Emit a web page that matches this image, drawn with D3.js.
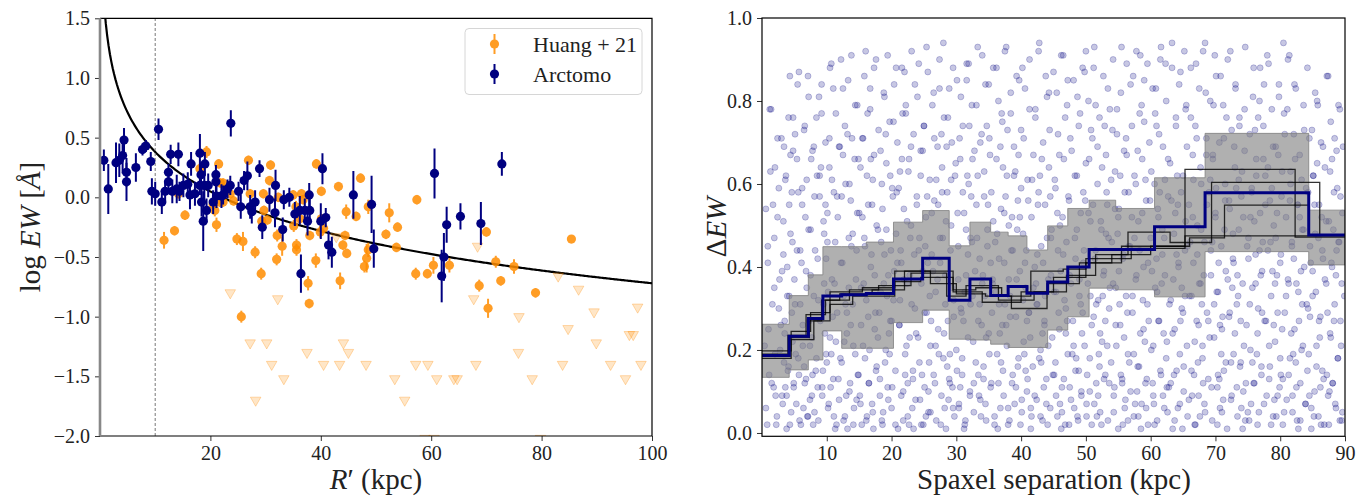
<!DOCTYPE html>
<html>
<head>
<meta charset="utf-8">
<script src="https://cdn.jsdelivr.net/npm/d3@7"></script>
<style>
  body { margin: 0; background: #fff; }
  text { font-family: "Liberation Serif", "DejaVu Serif", serif; fill: #222; }
</style>
</head>
<body>
<div id="chart"></div>
<script>
// ---- left panel data: log EW vs R' ----
var huangPts = [
  [11.6,-0.36,0.07],[13.5,-0.28,0.04],[14.2,0.03,0.04],[15.4,-0.15,0.04],[18.1,0.24,0.05],
  [19.3,0.38,0.05],[20.8,-0.11,0.05],[21.1,-0.23,0.06],[21.5,0.28,0.04],[22.3,0.12,0.04],
  [22.3,-0.04,0.04],[24.2,-0.03,0.04],[23.6,0.03,0.04],[24.8,-0.35,0.05],[25.9,-0.37,0.08],
  [26.9,0.31,0.04],[27.2,0.03,0.04],[28.1,-0.46,0.05],[29.2,-0.64,0.05],[29.3,-0.20,0.04],
  [30.9,0.27,0.04],[30.7,0.14,0.04],[29.6,0.03,0.04],[29.7,-0.11,0.04],[32.1,-0.32,0.05],
  [33.0,-0.41,0.08],[32.0,-0.52,0.05],[35.5,-0.08,0.05],[36.5,0.03,0.04],[36.8,-0.02,0.04],
  [35.1,-0.24,0.05],[36.2,-0.18,0.04],[35.6,-0.40,0.05],[35.6,-0.44,0.05],[38.0,-0.32,0.04],
  [37.7,-0.72,0.06],[37.9,-0.89,0.04],[39.2,0.28,0.04],[40.1,0.05,0.04],[39.9,-0.29,0.05],
  [40.5,-0.26,0.04],[39.1,-0.53,0.06],[43.2,0.09,0.04],[44.6,-0.12,0.06],[44.4,-0.32,0.04],
  [44.0,-0.40,0.04],[44.7,-0.47,0.04],[43.5,-0.70,0.07],[47.2,0.16,0.04],[46.4,-0.16,0.04],
  [48.6,-0.08,0.06],[48.6,-0.44,0.06],[48.3,-0.51,0.12],[47.9,-0.58,0.05],[52.4,-0.13,0.08],
  [53.9,-0.25,0.04],[51.8,-0.31,0.04],[53.7,-0.42,0.04],[57.4,-0.02,0.04],[57.2,-0.64,0.05],
  [59.3,-0.64,0.04],[60.4,-0.57,0.07],[63.3,-0.57,0.06],[70.0,-0.29,0.04],[71.7,-0.54,0.05],
  [75.0,-0.58,0.06],[68.7,-0.74,0.05],[72.6,-0.70,0.04],[78.9,-0.80,0.04],[85.4,-0.35,0.03],
  [70.3,-0.93,0.08],[25.6,-1.00,0.05],[20.5,-0.06,0.04],[21.7,-0.04,0.04],[21.8,0.12,0.04],
  [30.3,-0.19,0.04],[32.3,0.00,0.04],[35.0,0.02,0.04],[40.1,-0.18,0.04]
];
var huangLimits = [
  [23.6,-0.80],[32.2,-0.85],[27.2,-1.22],[30.2,-1.22],[31.1,-1.40],[33.3,-1.52],[28.2,-1.70],
  [37.5,-1.30],[40.5,-1.40],[43.4,-1.40],[44.1,-1.22],[45.0,-1.30],[48.2,-1.40],[53.4,-1.52],
  [55.2,-1.70],[57.2,-1.40],[59.4,-1.40],[61.0,-1.52],[64.1,-1.52],[64.7,-1.52],[68.1,-1.40],
  [67.7,-0.85],[75.9,-1.00],[75.8,-1.30],[78.3,-1.52],[83.8,-1.40],[84.8,-1.10],[86.7,-0.77],
  [83.0,-0.66],[89.5,-0.96],[89.9,-1.22],[92.5,-1.40],[95.2,-1.52],[95.9,-1.15],[96.6,-1.15],
  [97.4,-0.92],[98.0,-1.40],[58.9,-2.02],[60.5,-2.02],[79.8,-2.02],[68.4,-0.41],[42.8,-0.33]
];
var arctomoPts = [
  [0.7,0.31,0.09],[1.5,0.07,0.21],[2.9,0.29,0.17],[3.5,0.31,0.14],[4.1,0.35,0.15],[4.35,0.48,0.10],
  [4.8,0.21,0.12],[4.8,0.13,0.16],[6.5,0.25,0.12],[7.7,0.40,0.05],[8.3,0.43,0.05],[9.2,0.30,0.08],
  [9.4,0.05,0.11],[10.0,0.03,0.10],[10.6,0.57,0.09],[11.2,-0.04,0.10],[11.8,0.05,0.08],[12.4,0.21,0.07],
  [12.4,0.13,0.08],[12.8,0.36,0.08],[13.1,0.05,0.10],[13.9,0.07,0.12],[14.2,0.36,0.10],[14.4,0.05,0.08],
  [15.1,0.10,0.10],[15.9,0.11,0.10],[16.5,0.28,0.10],[16.3,0.02,0.12],[17.2,0.03,0.10],[18.1,0.37,0.16],
  [18.3,0.19,0.10],[19.0,0.28,0.10],[18.9,0.10,0.12],[18.1,0.10,0.08],[18.4,-0.04,0.12],[18.7,-0.20,0.25],
  [19.3,-0.11,0.10],[19.6,0.10,0.10],[20.5,-0.04,0.10],[21.0,0.19,0.08],[21.0,0.13,0.10],[21.1,0.01,0.10],
  [22.0,0.01,0.10],[22.3,0.02,0.08],[23.1,0.07,0.08],[23.6,0.10,0.08],[23.7,0.62,0.11],[25.1,0.05,0.08],
  [25.5,-0.08,0.10],[26.1,0.14,0.08],[26.7,0.18,0.12],[27.2,-0.08,0.10],[27.5,-0.12,0.10],[28.1,-0.04,0.10],
  [28.9,0.24,0.07],[29.4,-0.25,0.10],[30.7,-0.02,0.10],[31.8,0.10,0.13],[31.7,-0.13,0.12],[33.1,-0.27,0.10],
  [33.3,-0.02,0.08],[34.3,0.00,0.08],[35.3,-0.14,0.10],[36.2,-0.11,0.12],[37.1,-0.11,0.10],[37.6,-0.20,0.12],
  [38.0,-0.11,0.10],[37.9,0.02,0.10],[36.4,-0.64,0.16],[40.3,0.24,0.13],[40.0,-0.20,0.15],[40.9,-0.17,0.08],
  [41.4,-0.40,0.12],[42.0,-0.46,0.13],[45.9,0.02,0.20],[49.2,-0.06,0.24],[49.6,-0.43,0.16],[60.6,0.20,0.21],
  [62.8,-0.23,0.15],[65.3,-0.16,0.11],[69.0,-0.22,0.18],[72.8,0.28,0.10],[62.3,-0.50,0.20],[61.9,-0.66,0.22]
];
// power-law fit: log EW = fitA + fitB * log10(R')
var fitA = 1.48, fitB = -1.1;
var rCut = 10;

var leftXTicks = [20, 40, 60, 80, 100];
var leftYTicks = [-2.0, -1.5, -1.0, -0.5, 0.0, 0.5, 1.0, 1.5];

// ---- right panel data: Delta EW vs spaxel separation ----
var binEdges = [0, 4.2, 7.15, 9.4, 12.3, 16.1, 20.3, 24.8, 28.9, 32.1, 35.3, 38.0, 40.9, 44.1, 47.2, 50.5, 54.6, 60.6, 68.4, 84.4, 90];
var bandLow  = [0.134, 0.152, 0.176, 0.246, 0.204, 0.204, 0.266, 0.296, 0.226, 0.224, 0.214, 0.206, 0.206, 0.248, 0.280, 0.349, 0.345, 0.328, 0.437, 0.405];
var bandHigh = [0.262, 0.331, 0.381, 0.449, 0.449, 0.460, 0.508, 0.536, 0.451, 0.508, 0.484, 0.475, 0.441, 0.499, 0.541, 0.561, 0.541, 0.615, 0.722, 0.537];
var meanStep = [0.187, 0.233, 0.276, 0.330, 0.333, 0.336, 0.371, 0.421, 0.320, 0.371, 0.331, 0.353, 0.337, 0.364, 0.400, 0.442, 0.442, 0.497, 0.579, 0.477];

var subEdgesA = [0, 4.5, 7.5, 10.5, 15.5, 20.5, 27.0, 29.5, 33.0, 37.0, 41.5, 46.5, 50.0, 55.5, 65.3, 82.3, 90];
var subValsA  = [0.198, 0.245, 0.29, 0.34, 0.35, 0.39, 0.39, 0.345, 0.35, 0.33, 0.39, 0.395, 0.41, 0.45, 0.635, 0.472];
var subEdgesB = [0, 4.0, 6.8, 9.8, 13.5, 18.0, 23.0, 28.5, 31.5, 36.5, 42.0, 47.0, 51.5, 56.5, 63.0, 69.4, 86.1, 90];
var subValsB  = [0.19, 0.235, 0.285, 0.32, 0.345, 0.355, 0.385, 0.33, 0.355, 0.32, 0.34, 0.38, 0.43, 0.484, 0.459, 0.604, 0.477];
var subEdgesC = [0, 4.3, 7.3, 9.2, 12.0, 17.0, 22.0, 26.0, 30.0, 34.5, 38.5, 44.0, 49.0, 54.0, 60.0, 66.0, 71.4, 84.4, 90];
var subValsC  = [0.185, 0.23, 0.27, 0.32, 0.335, 0.345, 0.39, 0.36, 0.335, 0.33, 0.30, 0.36, 0.41, 0.43, 0.45, 0.47, 0.549, 0.477];
var subEdgesD = [0, 4.5, 8.0, 10.5, 14.0, 20.5, 24.5, 29.5, 34.0, 40.0, 45.0, 50.0, 57.0, 65.3, 90];
var subValsD  = [0.18, 0.225, 0.27, 0.31, 0.33, 0.365, 0.375, 0.34, 0.315, 0.34, 0.375, 0.42, 0.445, 0.475];

// spaxel pairs (separation kpc, delta EW)
var pairSep = [
  [0.6,0.06],[1.2,0.78],[1.5,0.12],[1.9,0.35],[2.2,0.02],[2.4,0.52],[2.8,0.2],[3.0,0.71],[3.1,0.09],[3.3,0.43],[3.5,0.27],[3.6,0.61],[3.8,0.01],[4.0,0.15],[4.1,0.76],[4.2,0.33],[4.4,0.48],[4.5,0.05],[4.6,0.58],[4.7,0.22],[4.8,0.68],[4.9,0.11],[2.0,0.64],[2.6,0.3],[3.9,0.4],[1.0,0.25],[0.9,0.45],[1.7,0.55],[4.3,0.86],[3.4,0.17],
  [5.1,0.31],[5.3,0.07],[5.4,0.66],[5.6,0.18],[5.7,0.87],[5.9,0.44],[6.0,0.02],[6.2,0.55],[6.3,0.26],[6.5,0.73],[6.6,0.12],[6.8,0.39],[6.9,0.61],[7.1,0.04],[7.2,0.81],[7.4,0.21],[7.5,0.49],[7.7,0.09],[7.8,0.68],[8.0,0.33],[8.1,0.57],[8.3,0.15],[8.4,0.76],[8.6,0.42],[8.7,0.03],[8.9,0.62],[9.0,0.27],[9.2,0.84],[9.3,0.11],[9.5,0.51],[9.6,0.36],[9.8,0.7],[9.9,0.19],
  [10.1,0.46],[10.2,0.06],[10.4,0.64],[10.5,0.23],[10.7,0.89],[10.8,0.37],[11.0,0.13],[11.1,0.58],[11.3,0.01],[11.4,0.77],[11.6,0.29],[11.7,0.52],[11.9,0.08],[12.0,0.69],[12.2,0.41],[12.3,0.17],[12.5,0.83],[12.6,0.33],[12.8,0.04],[12.9,0.6],[13.1,0.24],[13.2,0.72],[13.4,0.47],[13.5,0.1],[13.7,0.56],[13.8,0.91],[14.0,0.31],[14.1,0.02],[14.3,0.66],[14.4,0.19],[14.6,0.44],[14.7,0.79],[14.9,0.14],
  [15.0,0.53],[15.2,0.07],[15.3,0.35],[15.5,0.71],[15.6,0.21],[15.8,0.86],[15.9,0.45],[16.1,0.03],[16.2,0.62],[16.4,0.28],[16.5,0.12],[16.7,0.78],[16.8,0.4],[17.0,0.55],[17.1,0.05],[17.3,0.67],[17.4,0.25],[17.6,0.9],[17.7,0.16],[17.9,0.49],[18.0,0.73],[18.2,0.09],[18.3,0.34],[18.5,0.6],[18.6,0.02],[18.8,0.82],[18.9,0.43],[19.1,0.2],[19.2,0.65],[19.4,0.11],[19.5,0.38],[19.7,0.75],[19.8,0.27],
  [20.0,0.06],[20.1,0.59],[20.3,0.32],[20.4,0.84],[20.6,0.15],[20.7,0.48],[20.9,0.7],[21.0,0.01],[21.2,0.26],[21.3,0.63],[21.5,0.41],[21.6,0.88],[21.8,0.1],[21.9,0.54],[22.1,0.19],[22.2,0.77],[22.4,0.36],[22.5,0.04],[22.7,0.66],[22.8,0.23],[23.0,0.5],[23.1,0.92],[23.3,0.13],[23.4,0.72],[23.6,0.3],[23.7,0.08],[23.9,0.57],[24.0,0.81],[24.2,0.44],[24.3,0.17],[24.5,0.68],[24.6,0.02],[24.8,0.39],
  [25.0,0.74],[25.1,0.11],[25.3,0.52],[25.4,0.29],[25.6,0.87],[25.7,0.05],[25.9,0.61],[26.0,0.21],[26.2,0.43],[26.3,0.79],[26.5,0.14],[26.6,0.56],[26.8,0.34],[26.9,0.03],[27.1,0.69],[27.2,0.25],[27.4,0.9],[27.5,0.47],[27.7,0.09],[27.8,0.64],[28.0,0.18],[28.1,0.76],[28.3,0.38],[28.4,0.01],[28.6,0.58],[28.7,0.27],[28.9,0.83],[29.0,0.12],[29.2,0.5],[29.3,0.7],[29.5,0.06],[29.6,0.32],[29.8,0.62],
  [30.0,0.2],[30.1,0.85],[30.3,0.45],[30.4,0.07],[30.6,0.66],[30.7,0.3],[30.9,0.14],[31.0,0.74],[31.2,0.53],[31.3,0.02],[31.5,0.38],[31.6,0.89],[31.8,0.23],[31.9,0.6],[32.1,0.1],[32.2,0.47],[32.4,0.79],[32.5,0.33],[32.7,0.05],[32.8,0.68],[33.0,0.17],[33.1,0.55],[33.3,0.93],[33.4,0.27],[33.6,0.42],[33.7,0.08],[33.9,0.72],[34.0,0.36],[34.2,0.13],[34.3,0.63],[34.5,0.84],[34.6,0.03],[34.8,0.49],
  [35.0,0.24],[35.1,0.71],[35.3,0.11],[35.4,0.58],[35.6,0.37],[35.7,0.88],[35.9,0.04],[36.0,0.46],[36.2,0.66],[36.3,0.19],[36.5,0.8],[36.6,0.31],[36.8,0.06],[36.9,0.54],[37.1,0.75],[37.2,0.15],[37.4,0.41],[37.5,0.92],[37.7,0.26],[37.8,0.62],[38.0,0.02],[38.1,0.5],[38.3,0.33],[38.4,0.77],[38.6,0.12],[38.7,0.44],[38.9,0.69],[39.0,0.07],[39.2,0.28],[39.3,0.86],[39.5,0.56],[39.6,0.18],[39.8,0.39],
  [40.0,0.73],[40.1,0.05],[40.3,0.48],[40.4,0.22],[40.6,0.83],[40.7,0.35],[40.9,0.1],[41.0,0.61],[41.2,0.29],[41.3,0.9],[41.5,0.01],[41.6,0.52],[41.8,0.16],[41.9,0.67],[42.1,0.4],[42.2,0.78],[42.4,0.08],[42.5,0.31],[42.7,0.58],[42.8,0.94],[43.0,0.2],[43.1,0.45],[43.3,0.03],[43.4,0.7],[43.6,0.26],[43.7,0.55],[43.9,0.13],[44.0,0.81],[44.2,0.37],[44.3,0.64],[44.5,0.06],[44.6,0.47],[44.8,0.23],
  [45.0,0.87],[45.1,0.14],[45.3,0.59],[45.4,0.34],[45.6,0.04],[45.7,0.72],[45.9,0.25],[46.0,0.5],[46.2,0.91],[46.3,0.11],[46.5,0.43],[46.6,0.66],[46.8,0.02],[46.9,0.3],[47.1,0.79],[47.2,0.19],[47.4,0.56],[47.5,0.38],[47.7,0.08],[47.8,0.68],[48.0,0.27],[48.1,0.85],[48.3,0.47],[48.4,0.15],[48.6,0.62],[48.7,0.04],[48.9,0.74],[49.0,0.33],[49.2,0.53],[49.3,0.1],[49.5,0.88],[49.6,0.41],[49.8,0.21],
  [50.0,0.65],[50.1,0.07],[50.3,0.36],[50.4,0.8],[50.6,0.18],[50.7,0.51],[50.9,0.02],[51.0,0.71],[51.2,0.28],[51.3,0.93],[51.5,0.44],[51.6,0.12],[51.8,0.6],[51.9,0.32],[52.1,0.76],[52.2,0.05],[52.4,0.49],[52.5,0.22],[52.7,0.86],[52.8,0.39],[53.0,0.14],[53.1,0.67],[53.3,0.55],[53.4,0.03],[53.6,0.3],[53.7,0.78],[53.9,0.17],[54.0,0.46],[54.2,0.9],[54.3,0.09],[54.5,0.63],[54.6,0.35],[54.8,0.72],
  [55.0,0.01],[55.1,0.54],[55.3,0.26],[55.4,0.82],[55.6,0.13],[55.7,0.42],[55.9,0.68],[56.0,0.06],[56.2,0.33],[56.3,0.89],[56.5,0.19],[56.6,0.58],[56.8,0.45],[56.9,0.1],[57.1,0.74],[57.2,0.29],[57.4,0.04],[57.5,0.62],[57.7,0.37],[57.8,0.92],[58.0,0.16],[58.1,0.51],[58.3,0.77],[58.4,0.24],[58.6,0.07],[58.7,0.66],[58.9,0.4],[59.0,0.85],[59.2,0.12],[59.3,0.56],[59.5,0.31],[59.6,0.02],[59.8,0.7],
  [60.0,0.47],[60.1,0.2],[60.3,0.83],[60.4,0.09],[60.6,0.6],[60.7,0.35],[60.9,0.74],[61.0,0.03],[61.2,0.52],[61.3,0.27],[61.5,0.9],[61.6,0.14],[61.8,0.43],[61.9,0.69],[62.1,0.06],[62.2,0.38],[62.4,0.8],[62.5,0.22],[62.7,0.57],[62.8,0.11],[63.0,0.65],[63.1,0.32],[63.3,0.94],[63.4,0.01],[63.6,0.48],[63.7,0.25],[63.9,0.76],[64.0,0.15],[64.2,0.55],[64.3,0.4],[64.5,0.07],[64.6,0.87],[64.8,0.3],
  [65.0,0.62],[65.1,0.1],[65.3,0.44],[65.4,0.78],[65.6,0.21],[65.7,0.04],[65.9,0.55],[66.0,0.33],[66.2,0.88],[66.3,0.15],[66.5,0.67],[66.6,0.41],[66.8,0.02],[66.9,0.74],[67.1,0.27],[67.2,0.5],[67.4,0.09],[67.5,0.83],[67.7,0.36],[67.8,0.6],[68.0,0.18],[68.1,0.92],[68.3,0.46],[68.4,0.05],[68.6,0.71],[68.7,0.29],[68.9,0.13],[69.0,0.58],[69.2,0.8],[69.3,0.38],[69.5,0.03],[69.6,0.66],[69.8,0.23],
  [70.0,0.52],[70.1,0.86],[70.3,0.11],[70.4,0.34],[70.6,0.7],[70.7,0.06],[70.9,0.45],[71.0,0.25],[71.2,0.79],[71.3,0.15],[71.5,0.6],[71.6,0.39],[71.8,0.01],[71.9,0.9],[72.1,0.28],[72.2,0.54],[72.4,0.08],[72.5,0.73],[72.7,0.42],[72.8,0.19],[73.0,0.64],[73.1,0.84],[73.3,0.31],[73.4,0.04],[73.6,0.49],[73.7,0.76],[73.9,0.17],[74.0,0.57],[74.2,0.36],[74.3,0.1],[74.5,0.68],[74.6,0.93],[74.8,0.26],
  [75.0,0.05],[75.1,0.47],[75.3,0.72],[75.4,0.2],[75.6,0.59],[75.7,0.35],[75.9,0.88],[76.0,0.12],[76.2,0.43],[76.3,0.66],[76.5,0.02],[76.6,0.3],[76.8,0.8],[76.9,0.53],[77.1,0.16],[77.2,0.39],[77.4,0.74],[77.5,0.07],[77.7,0.62],[77.8,0.27],[78.0,0.91],[78.1,0.44],[78.3,0.13],[78.4,0.56],[78.6,0.33],[78.7,0.78],[78.9,0.04],[79.0,0.5],[79.2,0.22],[79.3,0.69],[79.5,0.38],[79.6,0.09],[79.8,0.84],
  [80.0,0.41],[80.1,0.14],[80.3,0.63],[80.4,0.02],[80.6,0.77],[80.7,0.29],[80.9,0.52],[81.0,0.08],[81.2,0.9],[81.3,0.36],[81.5,0.18],[81.6,0.6],[81.8,0.46],[81.9,0.05],[82.1,0.72],[82.2,0.25],[82.4,0.83],[82.5,0.11],[82.7,0.55],[82.8,0.34],[83.0,0.67],[83.1,0.03],[83.3,0.2],[83.4,0.49],[83.6,0.79],[83.7,0.4],[83.9,0.07],[84.0,0.59],[84.2,0.15],[84.3,0.3],[84.5,0.71],[84.6,0.45],[84.8,0.01],
  [85.0,0.33],[85.1,0.62],[85.3,0.1],[85.4,0.48],[85.6,0.21],[85.7,0.8],[85.9,0.04],[86.0,0.55],[86.2,0.28],[86.3,0.7],[86.5,0.15],[86.6,0.42],[86.8,0.02],[86.9,0.64],[87.1,0.36],[87.2,0.86],[87.4,0.09],[87.5,0.51],[87.7,0.24],[87.8,0.75],[88.0,0.4],[88.1,0.12],[88.3,0.58],[88.4,0.31],[88.6,0.06],[88.7,0.68],[88.9,0.18],[89.0,0.46],[89.2,0.78],[89.3,0.27],[89.5,0.03],[89.6,0.53],
  [0.4,0.21],[2.1,0.09],[1.3,0.63],[2.7,0.37],[0.8,0.02],[1.9,0.47],[2.4,0.71],[1.1,0.14],[2.9,0.26],[0.6,0.54],[1.6,0.31],[2.3,0.04],[1.4,0.78],[2.6,0.59],[0.9,0.41],[2.0,0.19],[1.8,0.11],
  [3.2,0.07],[5.4,0.44],[4.1,0.16],[3.7,0.62],[5.8,0.03],[4.6,0.29],[3.3,0.51],[5.1,0.72],[4.9,0.12],[3.9,0.33],[5.6,0.58],[4.3,0.02],[3.5,0.24],[5.2,0.19],[4.4,0.67],[3.1,0.39],[5.9,0.31],[4.7,0.46],[3.6,0.11],[5.5,0.84],[4.2,0.55],[3.8,0.09],[5.0,0.37],[4.8,0.76],[5.7,0.14],[3.4,0.69],
  [6.3,0.21],[8.1,0.05],[7.2,0.49],[6.8,0.13],[8.7,0.32],[7.6,0.66],[6.1,0.41],[8.4,0.18],[7.9,0.02],[6.6,0.74],[8.9,0.57],[7.3,0.27],[6.4,0.06],[8.2,0.44],[7.1,0.86],[6.9,0.35],[8.6,0.11],[7.7,0.23],[6.2,0.59],[8.0,0.69],[7.4,0.08],[6.7,0.52],[8.8,0.81],[7.5,0.38],[6.5,0.16],[8.5,0.62],[7.0,0.04],[7.8,0.14],
  [9.3,0.09],[11.2,0.36],[10.4,0.71],[9.7,0.24],[11.8,0.13],[10.1,0.53],[9.1,0.64],[11.5,0.02],[10.7,0.19],[9.9,0.42],[11.0,0.83],[10.3,0.07],[9.5,0.31],[11.6,0.57],[10.9,0.28],[9.2,0.77],[11.3,0.46],[10.6,0.11],[9.8,0.55],[11.9,0.69],[10.2,0.34],[9.4,0.15],[11.1,0.04],[10.5,0.88],[9.6,0.48],[11.4,0.22],[10.8,0.61],[10.0,0.17],
  [12.4,0.41],[14.2,0.06],[13.1,0.29],[12.8,0.74],[14.7,0.53],[13.6,0.12],[12.1,0.18],[14.5,0.37],[13.3,0.85],[12.6,0.03],[14.9,0.66],[13.8,0.45],[12.3,0.57],[14.1,0.21],[13.0,0.09],[12.9,0.31],[14.4,0.79],[13.5,0.6],[12.2,0.9],[14.8,0.14],[13.7,0.26],[12.5,0.67],[14.0,0.48],[13.2,0.01],[12.7,0.22],[14.6,0.08],[13.9,0.71],[13.4,0.35],
  [15.3,0.26],[17.1,0.61],[16.2,0.04],[15.8,0.47],[17.6,0.15],[16.7,0.83],[15.1,0.09],[17.4,0.38],[16.4,0.55],[15.6,0.71],[17.9,0.23],[16.1,0.32],[15.4,0.02],[17.3,0.88],[16.9,0.43],[15.9,0.18],[17.7,0.5],[16.5,0.12],[15.2,0.64],[17.0,0.07],[16.3,0.77],[15.7,0.36],[17.5,0.29],[16.8,0.66],[15.5,0.52],[17.2,0.01],[16.6,0.2],[16.0,0.92],
  [18.2,0.13],[20.4,0.39],[19.1,0.72],[18.7,0.05],[20.8,0.58],[19.6,0.24],[18.4,0.46],[20.1,0.11],[19.3,0.33],[18.9,0.81],[20.6,0.02],[19.8,0.62],[18.1,0.29],[20.3,0.75],[19.0,0.17],[18.6,0.54],[20.9,0.41],[19.5,0.08],[18.3,0.68],[20.0,0.27],[19.2,0.49],[18.8,0.36],[20.7,0.88],[19.7,0.19],[18.5,0.03],[20.2,0.57],[19.4,0.91],[19.9,0.44],
  [21.3,0.32],[23.2,0.06],[22.4,0.51],[21.7,0.77],[23.8,0.24],[22.1,0.14],[21.1,0.59],[23.5,0.43],[22.7,0.02],[21.9,0.37],[23.0,0.69],[22.3,0.21],[21.5,0.09],[23.6,0.84],[22.9,0.47],[21.2,0.26],[23.3,0.15],[22.6,0.63],[21.8,0.03],[23.9,0.55],[22.2,0.79],[21.4,0.44],[23.1,0.31],[22.5,0.12],[21.6,0.66],[23.4,0.01],[22.8,0.38],[22.0,0.87],
  [24.4,0.08],[26.2,0.53],[25.1,0.29],[24.8,0.68],[26.7,0.12],[25.6,0.41],[24.1,0.23],[26.5,0.82],[25.3,0.04],[24.6,0.36],[26.9,0.61],[25.8,0.17],[24.3,0.47],[26.1,0.27],[25.0,0.74],[24.9,0.02],[26.4,0.39],[25.5,0.57],[24.2,0.89],[26.8,0.21],[25.7,0.1],[24.5,0.62],[26.0,0.05],[25.2,0.45],[24.7,0.14],[26.6,0.71],[25.9,0.33],[25.4,0.93],
  [27.3,0.19],[29.1,0.44],[28.2,0.06],[27.8,0.58],[29.6,0.28],[28.7,0.76],[27.1,0.37],[29.4,0.11],[28.4,0.51],[27.6,0.02],[29.9,0.65],[28.1,0.24],[27.4,0.83],[29.3,0.35],[28.9,0.13],[27.9,0.47],[29.7,0.04],[28.5,0.69],[27.2,0.55],[29.0,0.19],[28.3,0.31],[27.7,0.72],[29.5,0.88],[28.8,0.08],[27.5,0.41],[29.2,0.61],[28.6,0.16],[28.0,0.94],
  [30.2,0.53],[32.1,0.09],[31.3,0.34],[30.7,0.81],[32.6,0.22],[31.7,0.62],[30.1,0.15],[32.4,0.46],[31.4,0.03],[30.5,0.71],[32.9,0.39],[31.1,0.27],[30.4,0.06],[32.3,0.57],[31.9,0.89],[30.9,0.18],[32.7,0.12],[31.5,0.49],[30.3,0.37],[32.0,0.74],[31.2,0.01],[30.8,0.29],[32.5,0.66],[31.8,0.43],[30.6,0.11],[32.2,0.31],[31.6,0.85],[31.0,0.58],
  [33.4,0.14],[35.2,0.67],[34.1,0.38],[33.8,0.04],[35.7,0.51],[34.6,0.23],[33.1,0.79],[35.4,0.12],[34.3,0.57],[33.6,0.31],[35.9,0.02],[34.8,0.45],[33.3,0.62],[35.1,0.19],[34.0,0.91],[33.9,0.26],[35.6,0.36],[34.5,0.07],[33.2,0.47],[35.0,0.84],[34.2,0.16],[33.7,0.7],[35.5,0.29],[34.9,0.55],[33.5,0.09],[35.3,0.41],[34.7,0.74],[34.4,0.33],
  [36.3,0.48],[38.2,0.03],[37.1,0.26],[36.8,0.69],[38.7,0.14],[37.6,0.57],[36.1,0.34],[38.4,0.82],[37.3,0.09],[36.6,0.42],[38.9,0.62],[37.8,0.21],[36.4,0.01],[38.1,0.37],[37.0,0.77],[36.9,0.17],[38.6,0.52],[37.5,0.31],[36.2,0.88],[38.0,0.06],[37.2,0.64],[36.7,0.24],[38.5,0.44],[37.9,0.73],[36.5,0.12],[38.3,0.28],[37.7,0.93],[37.4,0.53],
  [39.2,0.11],[41.1,0.56],[40.3,0.32],[39.7,0.85],[41.6,0.04],[40.6,0.41],[39.1,0.63],[41.4,0.23],[40.4,0.71],[39.5,0.16],[41.9,0.35],[40.1,0.08],[39.4,0.49],[41.3,0.78],[40.9,0.27],[39.9,0.02],[41.7,0.61],[40.5,0.19],[39.3,0.37],[41.0,0.13],[40.2,0.88],[39.8,0.52],[41.5,0.06],[40.8,0.44],[39.6,0.67],[41.2,0.29],[40.7,0.15],[40.0,0.59],
  [42.3,0.36],[44.1,0.02],[43.2,0.66],[42.8,0.18],[44.7,0.49],[43.6,0.27],[42.1,0.09],[44.4,0.73],[43.4,0.41],[42.6,0.55],[44.9,0.14],[43.8,0.86],[42.4,0.31],[44.2,0.21],[43.0,0.04],[42.9,0.62],[44.6,0.38],[43.5,0.11],[42.2,0.76],[44.0,0.47],[43.3,0.24],[42.7,0.92],[44.5,0.57],[43.9,0.07],[42.5,0.43],[44.3,0.82],[43.7,0.33],[43.1,0.17],
  [45.2,0.61],[47.1,0.27],[46.3,0.05],[45.7,0.44],[47.6,0.71],[46.6,0.13],[45.1,0.34],[47.4,0.02],[46.4,0.52],[45.5,0.82],[47.9,0.19],[46.1,0.39],[45.4,0.09],[47.3,0.57],[46.9,0.24],[45.9,0.67],[47.7,0.36],[46.5,0.91],[45.3,0.17],[47.0,0.46],[46.2,0.01],[45.8,0.29],[47.5,0.11],[46.8,0.76],[45.6,0.53],[47.2,0.85],[46.7,0.32],[46.0,0.07],
  [48.4,0.42],[50.2,0.14],[49.1,0.77],[48.8,0.03],[50.7,0.33],[49.6,0.58],[48.1,0.21],[50.5,0.66],[49.3,0.09],[48.6,0.49],[50.9,0.26],[49.8,0.87],[48.3,0.62],[50.1,0.04],[49.0,0.37],[48.9,0.15],[50.4,0.53],[49.5,0.29],[48.2,0.06],[50.8,0.73],[49.7,0.44],[48.5,0.18],[50.0,0.92],[49.2,0.31],[48.7,0.81],[50.6,0.1],[49.9,0.56],[49.4,0.24],
  [51.3,0.07],[53.1,0.48],[52.2,0.24],[51.8,0.69],[53.6,0.12],[52.7,0.38],[51.1,0.55],[53.4,0.83],[52.4,0.02],[51.6,0.31],[53.9,0.61],[52.1,0.16],[51.4,0.42],[53.3,0.21],[52.9,0.74],[51.9,0.09],[53.7,0.35],[52.5,0.64],[51.2,0.88],[53.0,0.27],[52.3,0.51],[51.7,0.04],[53.5,0.47],[52.8,0.13],[51.5,0.79],[53.2,0.58],[52.6,0.33],[52.0,0.19],
  [54.2,0.36],[56.1,0.08],[55.3,0.62],[54.7,0.21],[56.6,0.45],[55.7,0.02],[54.1,0.73],[56.4,0.29],[55.4,0.14],[54.5,0.54],[56.9,0.84],[55.1,0.39],[54.4,0.11],[56.3,0.67],[55.9,0.23],[54.9,0.48],[56.7,0.17],[55.5,0.93],[54.3,0.05],[56.0,0.58],[55.2,0.31],[54.8,0.78],[56.5,0.03],[55.8,0.43],[54.6,0.26],[56.2,0.71],[55.6,0.12],[55.0,0.52],
  [57.4,0.19],[59.2,0.61],[58.1,0.04],[57.8,0.38],[59.7,0.27],[58.6,0.79],[57.1,0.52],[59.4,0.13],[58.3,0.44],[57.6,0.07],[59.9,0.56],[58.8,0.32],[57.3,0.86],[59.1,0.22],[58.0,0.68],[57.9,0.1],[59.6,0.41],[58.5,0.01],[57.2,0.33],[59.0,0.75],[58.2,0.16],[57.7,0.6],[59.5,0.89],[58.9,0.25],[57.5,0.47],[59.3,0.06],[58.7,0.53],[58.4,0.91],
  [60.3,0.12],[62.1,0.47],[61.2,0.27],[60.8,0.83],[62.6,0.05],[61.7,0.36],[60.1,0.63],[62.4,0.18],[61.3,0.72],[60.6,0.02],[62.9,0.31],[61.1,0.54],[60.4,0.21],[62.3,0.89],[61.9,0.09],[60.9,0.42],[62.7,0.66],[61.5,0.15],[60.2,0.39],[62.0,0.24],[61.4,0.58],[60.7,0.77],[62.5,0.11],[61.8,0.49],[60.5,0.07],[62.2,0.61],[61.6,0.93],[61.0,0.34],
  [63.2,0.56],[65.1,0.16],[64.3,0.41],[63.7,0.03],[65.6,0.69],[64.6,0.27],[63.1,0.12],[65.4,0.51],[64.4,0.84],[63.5,0.37],[65.9,0.08],[64.1,0.62],[63.4,0.24],[65.3,0.33],[64.9,0.01],[63.9,0.74],[65.7,0.45],[64.5,0.19],[63.3,0.88],[65.0,0.29],[64.2,0.06],[63.8,0.53],[65.5,0.79],[64.8,0.35],[63.6,0.14],[65.2,0.92],[64.7,0.58],[64.0,0.43],
  [66.4,0.09],[68.2,0.38],[67.1,0.71],[66.8,0.22],[68.7,0.55],[67.6,0.04],[66.1,0.46],[68.5,0.82],[67.3,0.17],[66.6,0.61],[68.9,0.27],[67.8,0.49],[66.3,0.33],[68.1,0.12],[67.0,0.89],[66.9,0.02],[68.6,0.67],[67.5,0.36],[66.2,0.76],[68.0,0.21],[67.2,0.43],[66.7,0.14],[68.4,0.94],[67.9,0.31],[66.5,0.52],[68.3,0.07],[67.7,0.64],[67.4,0.26],
  [69.3,0.44],[71.2,0.08],[70.1,0.59],[69.8,0.31],[71.7,0.76],[70.6,0.13],[69.1,0.23],[71.4,0.49],[70.3,0.02],[69.6,0.67],[71.9,0.37],[70.8,0.86],[69.4,0.11],[71.1,0.28],[70.0,0.53],[69.9,0.91],[71.6,0.17],[70.5,0.41],[69.2,0.61],[71.0,0.05],[70.2,0.34],[69.7,0.79],[71.5,0.56],[70.9,0.19],[69.5,0.46],[71.3,0.71],[70.7,0.26],[70.4,0.14],
  [72.2,0.29],[74.1,0.63],[73.3,0.11],[72.7,0.48],[74.6,0.03],[73.7,0.74],[72.1,0.56],[74.4,0.21],[73.4,0.38],[72.5,0.09],[74.9,0.45],[73.1,0.83],[72.4,0.17],[74.3,0.52],[73.9,0.27],[72.9,0.69],[74.7,0.12],[73.5,0.33],[72.3,0.92],[74.0,0.06],[73.2,0.59],[72.8,0.41],[74.5,0.78],[73.8,0.16],[72.6,0.35],[74.2,0.01],[73.6,0.61],[73.0,0.24],
  [75.4,0.52],[77.1,0.14],[76.2,0.36],[75.8,0.81],[77.6,0.27],[76.7,0.05],[75.1,0.42],[77.4,0.66],[76.4,0.19],[75.6,0.58],[77.9,0.09],[76.1,0.73],[75.3,0.31],[77.3,0.46],[76.9,0.88],[75.9,0.12],[77.7,0.55],[76.5,0.24],[75.2,0.03],[77.0,0.38],[76.3,0.62],[75.7,0.17],[77.5,0.84],[76.8,0.44],[75.5,0.07],[77.2,0.29],[76.6,0.76],[76.0,0.51],
  [78.3,0.21],[80.2,0.57],[79.1,0.08],[78.8,0.39],[80.7,0.72],[79.6,0.29],[78.1,0.64],[80.4,0.13],[79.3,0.47],[78.6,0.02],[80.9,0.33],[79.8,0.81],[78.4,0.16],[80.1,0.43],[79.0,0.26],[78.9,0.69],[80.6,0.05],[79.5,0.53],[78.2,0.89],[80.0,0.18],[79.2,0.36],[78.7,0.59],[80.5,0.94],[79.9,0.11],[78.5,0.46],[80.3,0.25],[79.7,0.67],[79.4,0.04],
  [81.2,0.37],[83.1,0.12],[82.3,0.66],[81.7,0.24],[83.6,0.49],[82.6,0.03],[81.1,0.78],[83.4,0.31],[82.4,0.17],[81.5,0.56],[83.9,0.07],[82.1,0.42],[81.4,0.91],[83.3,0.61],[82.9,0.27],[81.9,0.09],[83.7,0.73],[82.5,0.36],[81.3,0.14],[83.0,0.52],[82.2,0.84],[81.8,0.45],[83.5,0.21],[82.8,0.01],[81.6,0.63],[83.2,0.39],[82.7,0.55],[82.0,0.19],
  [84.3,0.58],[86.1,0.23],[85.2,0.04],[84.7,0.41],[86.6,0.69],[85.6,0.16],[84.1,0.31],[86.4,0.52],[85.4,0.82],[84.5,0.09],[86.9,0.37],[85.1,0.62],[84.4,0.19],[86.3,0.02],[85.9,0.47],[84.9,0.73],[86.7,0.13],[85.5,0.34],[84.2,0.88],[86.0,0.27],[85.3,0.55],[84.8,0.06],[86.5,0.44],[85.8,0.79],[84.6,0.28],[86.2,0.11],[85.7,0.65],[85.0,0.39],
  [87.2,0.14],[89.1,0.46],[88.3,0.27],[87.7,0.63],[89.6,0.05],[88.6,0.38],[87.1,0.51],[89.4,0.21],[88.4,0.71],[87.5,0.02],[89.9,0.33],[88.1,0.12],[87.4,0.86],[89.3,0.57],[88.9,0.18],[87.9,0.41],[89.7,0.69],[88.5,0.07],[87.3,0.29],[89.0,0.79],[88.2,0.49],[87.8,0.23],[89.5,0.36],[88.8,0.59],[87.6,0.1],[89.2,0.03],[88.7,0.44],[88.0,0.66]
];

var rightXTicks = [10, 20, 30, 40, 50, 60, 70, 80, 90];
var rightYTicks = [0.0, 0.2, 0.4, 0.6, 0.8, 1.0];

// ---------------------------------------------------------------
var W = 1369, H = 497;
var svg = d3.select('#chart').append('svg')
  .attr('width', W).attr('height', H);

var orange = '#ff8c00', navy = '#000080';
var fmt1 = d3.format('.1f');

// ---------- LEFT PANEL ----------
var x1 = d3.scaleLinear().domain([0, 100]).range([100, 652]);
var y1 = d3.scaleLinear().domain([-2, 1.5]).range([436, 18.3]);

svg.append('clipPath').attr('id', 'clipL')
  .append('rect').attr('x', 100).attr('y', 18.3).attr('width', 552).attr('height', 417.7);

var gL = svg.append('g');
var plotL = gL.append('g').attr('clip-path', 'url(#clipL)');

// fit curve
var fitR = d3.range(0.3, 100.5, 0.25);
var curve = d3.line()
  .x(function(r) { return x1(r); })
  .y(function(r) { return y1(fitA + fitB * Math.log10(r)); });
plotL.append('path').datum(fitR)
  .attr('d', curve).attr('fill', 'none')
  .attr('stroke', '#000').attr('stroke-width', 2.2);

// dashed cut
plotL.append('line')
  .attr('x1', x1(rCut)).attr('x2', x1(rCut))
  .attr('y1', y1(-2)).attr('y2', y1(1.5))
  .attr('stroke', '#777').attr('stroke-width', 1).attr('stroke-dasharray', '3,2');

// upper limits
plotL.selectAll('path.lim').data(huangLimits).enter().append('path')
  .attr('class', 'lim')
  .attr('d', d3.symbol().type(d3.symbolTriangle).size(48))
  .attr('transform', function(d) { return 'translate(' + x1(d[0]) + ',' + y1(d[1]) + ') rotate(180)'; })
  .attr('fill', orange).attr('fill-opacity', 0.22)
  .attr('stroke', orange).attr('stroke-opacity', 0.3).attr('stroke-width', 1);

function drawErr(data, color, opacity) {
  var g = plotL.append('g').attr('opacity', opacity);
  g.selectAll('line').data(data).enter().append('line')
    .attr('x1', function(d) { return x1(d[0]); })
    .attr('x2', function(d) { return x1(d[0]); })
    .attr('y1', function(d) { return y1(d[1] - d[2]); })
    .attr('y2', function(d) { return y1(d[1] + d[2]); })
    .attr('stroke', color).attr('stroke-width', 2);
  g.selectAll('circle').data(data).enter().append('circle')
    .attr('cx', function(d) { return x1(d[0]); })
    .attr('cy', function(d) { return y1(d[1]); })
    .attr('r', 4.6).attr('fill', color);
}
huangPts.forEach(function(d) { drawErr([d], orange, 0.85); });
drawErr(arctomoPts, navy, 1);

// axes
var axL_x = d3.axisBottom(x1).tickValues(leftXTicks).tickSize(5).tickPadding(5).tickFormat(d3.format('d'));
var axL_y = d3.axisLeft(y1).tickValues(leftYTicks).tickSize(5).tickPadding(5).tickFormat(fmt1);
gL.append('g').attr('transform', 'translate(0,436)').call(axL_x);
gL.append('g').attr('transform', 'translate(100,0)').call(axL_y);

// spines
gL.append('path').attr('d', 'M100,18.3H652V436H100').attr('fill', 'none').attr('stroke', '#000').attr('stroke-width', 1.2);
gL.append('line').attr('x1', 100).attr('x2', 100).attr('y1', 18.3).attr('y2', 436)
  .attr('stroke', '#888').attr('stroke-width', 2.6);

// legend
var lg = gL.append('g');
lg.append('rect').attr('x', 465).attr('y', 28.5).attr('width', 177).attr('height', 66).attr('rx', 4)
  .attr('fill', '#fff').attr('fill-opacity', 0.8).attr('stroke', '#d6d6d6');
[['Huang + 21', orange, 0.85, 44], ['Arctomo', navy, 1, 74]].forEach(function(e) {
  var g = lg.append('g').attr('opacity', e[2]);
  g.append('line').attr('x1', 494.5).attr('x2', 494.5).attr('y1', e[3] - 10).attr('y2', e[3] + 10)
    .attr('stroke', e[1]).attr('stroke-width', 2);
  g.append('circle').attr('cx', 494.5).attr('cy', e[3]).attr('r', 4.6).attr('fill', e[1]);
  lg.append('text').attr('x', 533).attr('y', e[3] + 8).attr('font-size', 22).text(e[0]);
});

// titles
var tl = gL.append('text').attr('x', 376).attr('y', 489).attr('text-anchor', 'middle').attr('font-size', 29);
tl.append('tspan').attr('font-style', 'italic').text('R');
tl.append('tspan').text('\u2032 (kpc)');
var ty = gL.append('text').attr('transform', 'translate(40,227) rotate(-90)')
  .attr('text-anchor', 'middle').attr('font-size', 29);
ty.append('tspan').text('log ');
ty.append('tspan').attr('font-style', 'italic').text('EW');
ty.append('tspan').text(' [');
ty.append('tspan').attr('font-style', 'italic').text('\u00C5');
ty.append('tspan').text(']');

// ---------- RIGHT PANEL ----------
var x2 = d3.scaleLinear().domain([0, 90]).range([762, 1345]);
var y2 = d3.scaleLinear().domain([-0.008, 1.0]).range([436.3, 18]);

svg.append('clipPath').attr('id', 'clipR')
  .append('rect').attr('x', 762).attr('y', 18).attr('width', 583).attr('height', 418.3);

var gR = svg.append('g');
var plotR = gR.append('g').attr('clip-path', 'url(#clipR)');

plotR.selectAll('circle.pt').data(pairSep).enter().append('circle')
  .attr('class', 'pt')
  .attr('cx', function(d) { return x2(d[0]); })
  .attr('cy', function(d) { return y2(d[1]); })
  .attr('r', 3)
  .attr('fill', navy).attr('fill-opacity', 0.22)
  .attr('stroke', navy).attr('stroke-opacity', 0.28).attr('stroke-width', 0.8);

function stepData(edges, vals) {
  var out = vals.map(function(v, i) { return [edges[i], v]; });
  out.push([edges[edges.length - 1], vals[vals.length - 1]]);
  return out;
}

var bandData = binEdges.map(function(e, i) {
  var k = Math.min(i, bandLow.length - 1);
  return { x: e, lo: bandLow[k], hi: bandHigh[k] };
});
plotR.append('path').datum(bandData)
  .attr('d', d3.area().curve(d3.curveStepAfter)
    .x(function(d) { return x2(d.x); })
    .y0(function(d) { return y2(d.lo); })
    .y1(function(d) { return y2(d.hi); }))
  .attr('fill', '#808080').attr('fill-opacity', 0.62)
  .attr('stroke', '#808080').attr('stroke-opacity', 0.8).attr('stroke-width', 1);

var stepLine = d3.line().curve(d3.curveStepAfter)
  .x(function(d) { return x2(d[0]); })
  .y(function(d) { return y2(d[1]); });

[[subEdgesA, subValsA], [subEdgesB, subValsB], [subEdgesC, subValsC], [subEdgesD, subValsD]].forEach(function(s) {
  plotR.append('path').datum(stepData(s[0], s[1]))
    .attr('d', stepLine).attr('fill', 'none')
    .attr('stroke', '#000').attr('stroke-opacity', 0.8).attr('stroke-width', 1.3);
});

plotR.append('path').datum(stepData(binEdges, meanStep))
  .attr('d', stepLine).attr('fill', 'none')
  .attr('stroke', navy).attr('stroke-width', 3);

var axR_x = d3.axisBottom(x2).tickValues(rightXTicks).tickSize(5).tickPadding(5).tickFormat(d3.format('d'));
var axR_y = d3.axisLeft(y2).tickValues(rightYTicks).tickSize(5).tickPadding(5).tickFormat(fmt1);
gR.append('g').attr('transform', 'translate(0,436.3)').call(axR_x);
gR.append('g').attr('transform', 'translate(762,0)').call(axR_y);

gR.append('rect').attr('x', 762).attr('y', 18).attr('width', 583).attr('height', 418.3)
  .attr('fill', 'none').attr('stroke', '#000').attr('stroke-width', 1.2);

gR.append('text').attr('x', 1054).attr('y', 489).attr('text-anchor', 'middle')
  .attr('font-size', 29).text('Spaxel separation (kpc)');
var tr = gR.append('text').attr('transform', 'translate(726,227) rotate(-90)')
  .attr('text-anchor', 'middle').attr('font-size', 29);
tr.append('tspan').text('\u0394');
tr.append('tspan').attr('font-style', 'italic').text('EW');

// axis styling
svg.selectAll('.domain').remove();
svg.selectAll('.tick line').attr('stroke', '#333').attr('stroke-width', 1);
svg.selectAll('.tick text').attr('font-size', 20).attr('fill', '#222')
  .style('font-family', '"Liberation Serif", serif');
</script>
</body>
</html>
